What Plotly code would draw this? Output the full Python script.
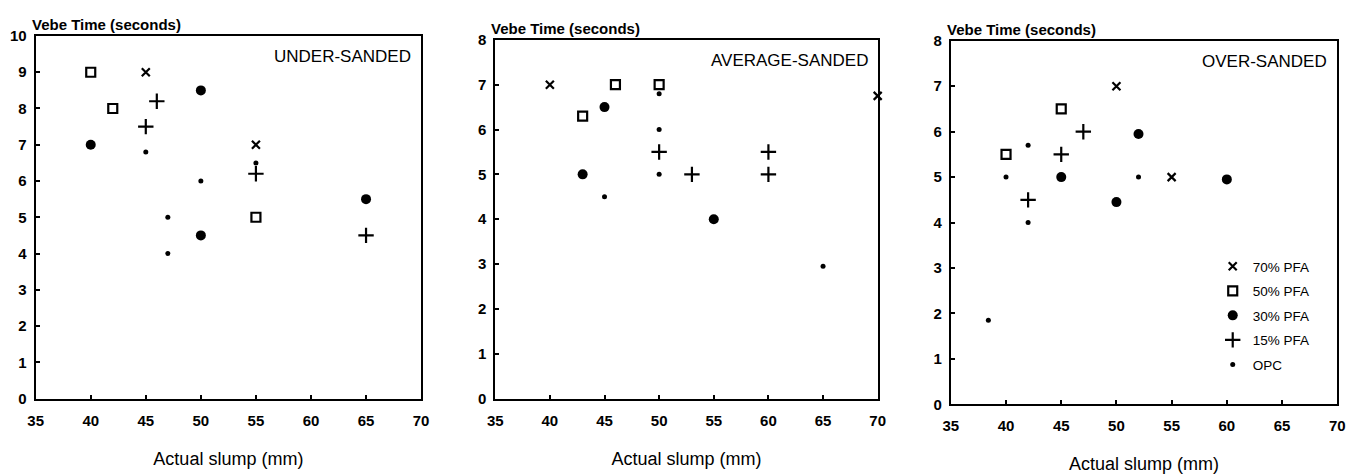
import plotly.graph_objects as go

# ---------------- data ----------------
series_names = ["70% PFA", "50% PFA", "30% PFA", "15% PFA", "OPC"]
panel_titles = ["UNDER-SANDED", "AVERAGE-SANDED", "OVER-SANDED"]
y_axis_title = "Vebe Time (seconds)"
x_axis_title = "Actual slump (mm)"
x_ticks = [35, 40, 45, 50, 55, 60, 65, 70]

# UNDER-SANDED
under_pfa70_x = [45, 55]
under_pfa70_y = [9, 7]
under_pfa50_x = [40, 42, 55]
under_pfa50_y = [9, 8, 5]
under_pfa30_x = [40, 50, 50, 65]
under_pfa30_y = [7, 8.5, 4.5, 5.5]
under_pfa15_x = [45, 46, 55, 65]
under_pfa15_y = [7.5, 8.2, 6.2, 4.5]
under_opc_x = [45, 47, 47, 50, 55]
under_opc_y = [6.8, 5, 4, 6, 6.5]

# AVERAGE-SANDED
avg_pfa70_x = [40, 70]
avg_pfa70_y = [7, 6.75]
avg_pfa50_x = [43, 46, 50]
avg_pfa50_y = [6.3, 7, 7]
avg_pfa30_x = [43, 45, 55]
avg_pfa30_y = [5, 6.5, 4]
avg_pfa15_x = [50, 53, 60, 60]
avg_pfa15_y = [5.5, 5, 5.5, 5]
avg_opc_x = [45, 50, 50, 50, 65]
avg_opc_y = [4.5, 6.8, 6, 5, 2.95]

# OVER-SANDED
over_pfa70_x = [50, 55]
over_pfa70_y = [7, 5]
over_pfa50_x = [40, 45]
over_pfa50_y = [5.5, 6.5]
over_pfa30_x = [45, 50, 52, 60]
over_pfa30_y = [5, 4.45, 5.95, 4.95]
over_pfa15_x = [42, 45, 47]
over_pfa15_y = [4.5, 5.5, 6]
over_opc_x = [40, 42, 42, 52, 38.4]
over_opc_y = [5, 5.7, 4, 5, 1.85]

y_max = [10, 8, 8]

panels = [
    [(under_pfa70_x, under_pfa70_y), (under_pfa50_x, under_pfa50_y), (under_pfa30_x, under_pfa30_y),
     (under_pfa15_x, under_pfa15_y), (under_opc_x, under_opc_y)],
    [(avg_pfa70_x, avg_pfa70_y), (avg_pfa50_x, avg_pfa50_y), (avg_pfa30_x, avg_pfa30_y),
     (avg_pfa15_x, avg_pfa15_y), (avg_opc_x, avg_opc_y)],
    [(over_pfa70_x, over_pfa70_y), (over_pfa50_x, over_pfa50_y), (over_pfa30_x, over_pfa30_y),
     (over_pfa15_x, over_pfa15_y), (over_opc_x, over_opc_y)],
]

# ---------------- styles ----------------
W, H = 1366, 474
FONT = "Liberation Sans, Arial, sans-serif"
marker_styles = [
    dict(symbol="x-thin", size=8, line=dict(width=2.2, color="black"), color="black"),
    dict(symbol="square-open", size=9, line=dict(width=2.2, color="black"), color="black"),
    dict(symbol="circle", size=10, color="black", line=dict(width=0)),
    dict(symbol="cross-thin", size=11, line=dict(width=2.2, color="black"), color="black"),
    dict(symbol="circle", size=5, color="black", line=dict(width=0)),
]

# pixel boxes of the plot areas: (left, right, top, bottom)
boxes = [(28, 418, 28, 404), (493, 880, 32, 404), (954, 1345, 33, 410)]

fig = go.Figure()

for p, data in enumerate(panels):
    ax = "" if p == 0 else str(p + 1)
    for s, (xs, ys) in enumerate(data):
        fig.add_trace(go.Scatter(
            x=xs, y=ys, mode="markers", name=series_names[s],
            marker=marker_styles[s],
            xaxis="x" + ax, yaxis="y" + ax,
            showlegend=(p == 2), legendgroup=series_names[s],
            cliponaxis=False,
        ))

layout = dict(
    width=W, height=H,
    margin=dict(l=0, r=0, t=0, b=0),
    paper_bgcolor="white", plot_bgcolor="white",
    font=dict(family=FONT, color="black"),
    showlegend=True,
    legend=dict(
        x=1219 / W, y=1 - 251 / H, xanchor="left", yanchor="top",
        font=dict(size=13.5, family=FONT), bgcolor="rgba(0,0,0,0)",
        tracegroupgap=4, itemwidth=30,
    ),
)

annotations = []
for p, (l, r, t, b) in enumerate(boxes):
    ax = "" if p == 0 else str(p + 1)
    xk = "xaxis" + ax
    yk = "yaxis" + ax
    layout[xk] = dict(
        domain=[l / W, r / W], range=[35, 70], tickvals=x_ticks,
        anchor="y" + ax, showline=True, mirror=True, linecolor="black", linewidth=2,
        ticks="inside", ticklen=4, tickwidth=1.5, tickcolor="black",
        showgrid=False, zeroline=False,
        tickfont=dict(size=15, family=FONT, weight="bold"),
        ticklabelstandoff=7,
        title=dict(text=x_axis_title, font=dict(size=18, family=FONT), standoff=25),
    )
    layout[yk] = dict(
        domain=[1 - b / H, 1 - t / H], range=[0, y_max[p]], dtick=1,
        anchor="x" + ax, showline=True, mirror=True, linecolor="black", linewidth=2,
        ticks="inside", ticklen=4, tickwidth=1.5, tickcolor="black",
        showgrid=False, zeroline=False,
        tickfont=dict(size=15, family=FONT, weight="bold"),
        ticklabelstandoff=4,
    )
    annotations.append(dict(
        text=y_axis_title, xref="paper", yref="paper",
        x=(l - 6) / W, y=1 - (t - 12) / H, xanchor="left", yanchor="middle",
        showarrow=False, font=dict(size=15, family=FONT, weight="bold"),
    ))
    annotations.append(dict(
        text=panel_titles[p], xref="paper", yref="paper",
        x=(r - 8) / W, y=1 - (t + 21) / H, xanchor="right", yanchor="middle",
        showarrow=False, font=dict(size=17, family=FONT),
    ))

layout["annotations"] = annotations
fig.update_layout(**layout)
fig.write_html("out.html")
